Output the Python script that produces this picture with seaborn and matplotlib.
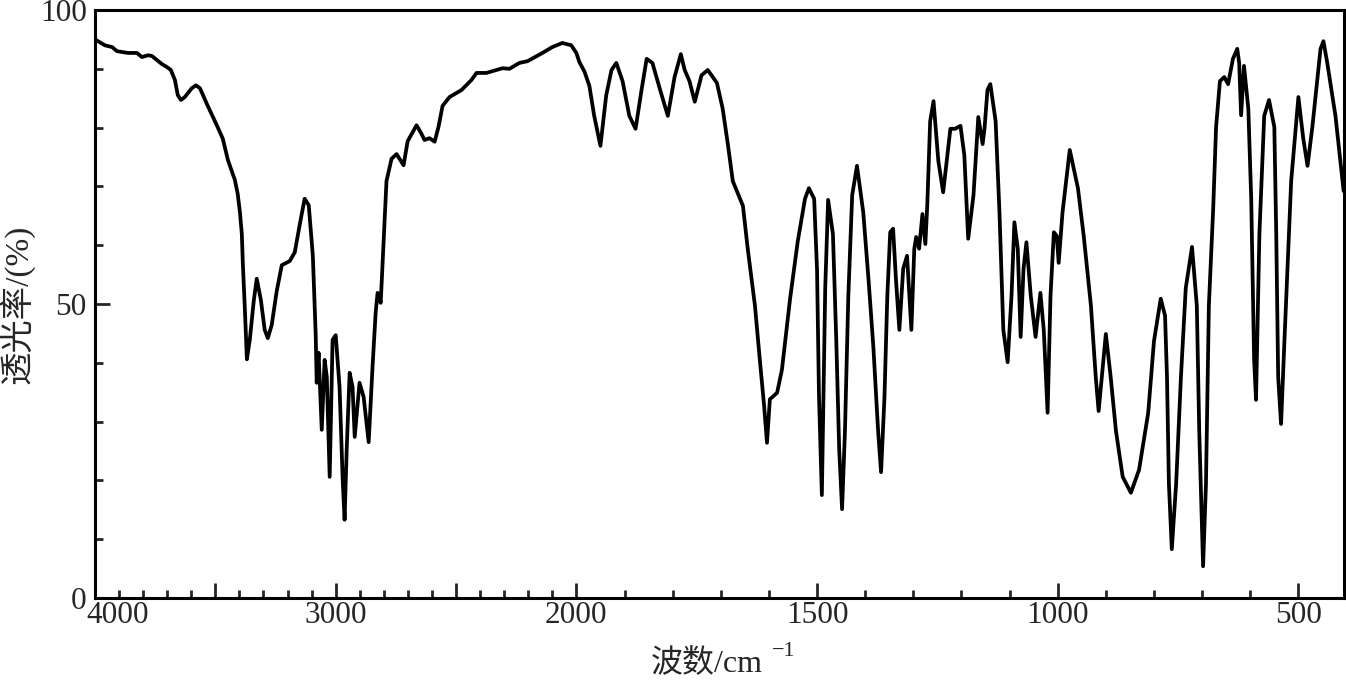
import numpy as np
import pandas as pd
import matplotlib
matplotlib.use("Agg")
import matplotlib.pyplot as plt
from matplotlib.ticker import FixedLocator, FixedFormatter
from matplotlib.transforms import ScaledTranslation
import seaborn as sns

# IR spectrum (wavenumber in cm-1, transmittance in %)
wavenumber = [
    3996, 3959, 3929, 3909, 3863, 3826, 3805, 3780, 3764, 3743,
    3722, 3701, 3685, 3668, 3656, 3643, 3627, 3598, 3581, 3564,
    3535, 3494, 3469, 3448, 3419, 3407, 3398, 3390, 3386, 3378,
    3369, 3357, 3340, 3328, 3311, 3295, 3282, 3266, 3245, 3224,
    3191, 3170, 3149, 3129, 3112, 3095, 3083, 3079, 3071, 3058,
    3046, 3037, 3025, 3013, 3000, 2984, 2971, 2963, 2954, 2942,
    2930, 2921, 2901, 2884, 2863, 2847, 2834, 2826, 2813, 2805,
    2789, 2768, 2747, 2718, 2701, 2664, 2643, 2631, 2610, 2589,
    2573, 2556, 2527, 2477, 2436, 2415, 2374, 2332, 2307, 2278,
    2237, 2203, 2141, 2100, 2058, 2021, 2000,
    1994, 1983, 1973, 1963, 1950, 1938, 1927, 1917, 1904, 1890,
    1877, 1865, 1854, 1842, 1827, 1810, 1796, 1783, 1775, 1765,
    1754, 1740, 1727, 1708, 1696, 1685, 1675, 1665, 1654, 1644,
    1629, 1619, 1610, 1604, 1598, 1583, 1573, 1556, 1540, 1525,
    1517, 1506, 1500, 1496, 1490, 1483, 1477, 1467, 1460, 1454,
    1448, 1442, 1435, 1427, 1417, 1404, 1393, 1383, 1373, 1367,
    1360, 1354, 1348, 1342, 1336, 1329, 1321, 1313, 1304, 1298,
    1294, 1288, 1281, 1275, 1271, 1265, 1258, 1248, 1238, 1223,
    1213, 1202, 1194, 1186, 1175, 1165, 1156, 1152, 1146, 1140,
    1129, 1121, 1113, 1104, 1096, 1090, 1083, 1077, 1071, 1065,
    1056, 1046, 1036, 1029, 1021, 1015, 1008, 1002, 998, 990,
    975, 958, 946, 931, 921, 915, 900, 890, 879, 865,
    848, 831, 812, 800, 786, 777, 773, 769, 763, 754,
    744, 734, 721, 711, 706, 698, 692, 686, 677, 671,
    663, 654, 646, 636, 627, 623, 619, 613, 604, 598,
    592, 588, 581, 571, 561, 550, 546, 542, 536, 529,
    515, 500, 490, 481, 471, 454, 448, 440, 423, 406,
]
transmittance = [
    94.9, 94.0, 93.7, 93.0, 92.7, 92.7, 92.0, 92.3, 92.2, 91.5,
    90.8, 90.3, 89.8, 88.1, 85.5, 84.7, 85.2, 86.7, 87.2, 86.7,
    84.0, 80.4, 78.1, 74.5, 71.1, 68.7, 65.6, 61.9, 57.0, 49.7,
    40.6, 43.9, 50.7, 54.3, 50.7, 45.6, 44.2, 46.4, 52.2, 56.6,
    57.3, 58.8, 63.6, 67.9, 66.8, 58.2, 44.7, 36.6, 41.7, 28.6,
    40.5, 37.6, 20.6, 43.9, 44.7, 35.9, 20.1, 13.3, 25.7, 38.3,
    35.9, 27.4, 36.6, 34.2, 26.5, 39.3, 48.5, 51.9, 50.2, 57.0,
    70.9, 74.7, 75.5, 73.6, 77.7, 80.4, 78.9, 77.9, 78.2, 77.6,
    80.1, 83.7, 85.2, 86.4, 88.1, 89.3, 89.3, 89.8, 90.1, 90.0,
    91.0, 91.3, 92.7, 93.7, 94.4, 94.0, 92.7,
    91.2, 89.5, 87.1, 82.0, 76.9, 85.5, 89.8, 91.0, 87.9, 82.0,
    79.8, 86.2, 91.7, 91.0, 86.7, 82.0, 88.6, 92.5, 89.8, 87.9,
    84.4, 88.9, 89.8, 87.6, 83.2, 77.0, 70.9, 68.9, 66.7, 59.4,
    49.7, 40.6, 32.7, 26.4, 33.8, 34.9, 38.8, 50.9, 60.7, 67.9,
    69.7, 67.9, 55.8, 34.5, 17.5, 52.7, 67.7, 61.9, 43.7, 25.3,
    15.1, 28.4, 51.4, 68.5, 73.5, 65.6, 54.1, 42.7, 28.2, 21.4,
    34.0, 51.4, 62.2, 62.8, 54.1, 45.6, 56.0, 58.2, 45.6, 59.4,
    61.4, 59.4, 65.3, 60.2, 66.8, 81.1, 84.5, 74.3, 69.0, 79.8,
    79.8, 80.3, 75.3, 61.1, 68.5, 81.8, 77.2, 79.9, 86.4, 87.4,
    81.1, 65.6, 45.6, 40.1, 51.4, 63.9, 59.4, 44.4, 56.0, 60.5,
    51.4, 44.4, 51.9, 45.6, 31.5, 51.4, 62.2, 61.6, 57.0, 65.6,
    76.2, 69.7, 61.6, 49.7, 37.6, 31.8, 44.9, 37.6, 28.4, 20.6,
    17.9, 21.8, 31.5, 43.7, 50.9, 48.0, 37.6, 19.4, 8.3, 19.4,
    37.6, 52.7, 59.7, 49.7, 28.4, 5.4, 19.4, 49.7, 66.2, 80.1,
    87.9, 88.6, 87.4, 91.7, 93.4, 91.0, 82.1, 90.5, 83.2, 67.9,
    40.6, 33.7, 61.9, 82.0, 84.7, 80.1, 61.9, 37.6, 29.6, 43.7,
    70.9, 85.2, 78.2, 73.5, 80.1, 93.4, 94.7, 91.0, 82.0, 69.2,
]

major_ticks = [4000, 3500, 3000, 2500, 2000, 1500, 1000, 500]
major_labels = ["4000", "", "3000", "", "2000", "1500", "1000", "500"]
minor_ticks = [w for w in range(3900, 400, -100) if w % 500 != 0]

df = pd.DataFrame({"wavenumber": wavenumber, "transmittance": transmittance})

sns.set_style("ticks")
plt.rcParams["font.family"] = ["Liberation Serif", "Noto Sans CJK SC"]


# below 2000 cm-1 the axis is stretched twice, as on the instrument chart
def fwd(w):
    w = np.asarray(w, dtype=float)
    return np.where(w >= 2000, w, 2 * w - 2000)


def inv(p):
    p = np.asarray(p, dtype=float)
    return np.where(p >= 2000, p, (p + 2000) / 2)


fig = plt.figure(figsize=(13.46, 6.82), dpi=100)
ax = fig.add_axes([0.0706, 0.1232, 0.928, 0.8621])

sns.lineplot(data=df, x="wavenumber", y="transmittance", ax=ax,
             color="black", linewidth=2.7, sort=False, estimator=None)
for line in ax.get_lines():
    line.set_solid_joinstyle("round")

ax.set_xscale("function", functions=(fwd, inv))
ax.set_xlim(4000, 405)
ax.set_ylim(0, 100)

ax.xaxis.set_major_locator(FixedLocator(major_ticks))
ax.xaxis.set_major_formatter(FixedFormatter(major_labels))
ax.xaxis.set_minor_locator(FixedLocator(minor_ticks))
ax.yaxis.set_major_locator(FixedLocator([0, 50, 100]))
ax.yaxis.set_minor_locator(FixedLocator(list(range(10, 100, 10))))

ax.tick_params(axis="both", which="major", direction="in", length=11,
               width=2, labelsize=22.5, pad=5)
ax.tick_params(axis="y", which="major", pad=6)
ax.tick_params(axis="x", which="major", pad=2)
ax.tick_params(axis="both", which="minor", direction="in", length=6, width=2)
ax.tick_params(top=False, right=False, which="both")

for spine in ax.spines.values():
    spine.set_visible(True)
    spine.set_linewidth(2.2)
    spine.set_color("black")

# the 4000 label sits right of its tick, clear of the y "0"
first = ax.xaxis.get_major_ticks()[0].label1
first.set_transform(first.get_transform()
                    + ScaledTranslation(0.23, 0, fig.dpi_scale_trans))

ax.set_xlabel("波数/cm", fontsize=23, labelpad=14)
ax.xaxis.label.set_x(0.49)
ax.set_ylabel("透光率/(%)", fontsize=24, labelpad=4)

# superscript -1 after the x label
fig.canvas.draw()
bb = ax.xaxis.label.get_window_extent()
W, H = fig.canvas.get_width_height()
fig.text((bb.x1 + 9) / W, (bb.y1 + 7) / H, "\u22121", fontsize=16,
         ha="left", va="top")

fig.savefig("out.png", dpi=100)
